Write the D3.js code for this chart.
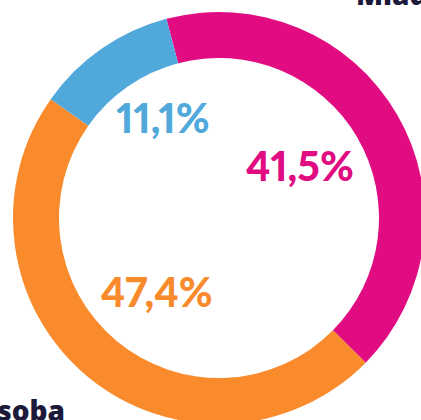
<!DOCTYPE html>
<html>
<head>
<meta charset="utf-8">
<script src="https://cdn.jsdelivr.net/npm/d3@7"></script>
<style>
	body { margin: 0; background: #fff; }
	#vizholder { width: 421px; height: 420px; overflow: hidden; }
	text { font-family: "Lato", "Noto Sans", sans-serif; font-weight: 900; }
	text.pct { font-variant-numeric: proportional-nums; font-feature-settings: "pnum" 1; }
	text.name { font-family: "Open Sans", "Noto Sans", sans-serif; font-weight: 800; }
</style>
</head>
<body>
<div id="vizholder"></div>
<script>

var gfxwidth = 421;
var gfxheight = 420;

// share of each group, in drawing order (clockwise)
var data = [
	{ "name": "pink",   "value": 41.5, "label": "41,5%", "color": "#e10c82", "lr": 97,  "dx": -3, "dy": -3 },
	{ "name": "orange", "value": 47.4, "label": "47,4%", "color": "#f98b2c", "lr": 97,  "dx": 0, "dy": 0 },
	{ "name": "blue",   "value": 11.1, "label": "11,1%", "color": "#50a8db", "lr": 114, "dx": 9, "dy": -6 }
];

var cx = 219, cy = 218;
var outerR = 206, innerR = 160;
var startAng = -14.8 * Math.PI / 180;

var svg = d3.select("#vizholder").append("svg")
	.attr("width", gfxwidth)
	.attr("height", gfxheight);

var vis = svg.append("g")
	.attr("transform", "translate(" + cx + "," + cy + ")");

var pie = d3.pie()
	.sort(null)
	.value(function(d) { return d.value; })
	.startAngle(startAng)
	.endAngle(startAng + 2 * Math.PI);

var arc = d3.arc()
	.innerRadius(innerR)
	.outerRadius(outerR);

var arcs = pie(data);

vis.selectAll("path")
	.data(arcs)
	.enter().append("path")
	.attr("d", arc)
	.style("fill", function(d) { return d.data.color; });

vis.selectAll("text.pct")
	.data(arcs)
	.enter().append("text")
	.attr("class", "pct")
	.attr("transform", function(d) {
		var la = d3.arc().innerRadius(d.data.lr).outerRadius(d.data.lr);
		var c = la.centroid(d);
		return "translate(" + (c[0] + d.data.dx) + "," + (c[1] + d.data.dy) + ")";
	})
	.attr("text-anchor", "middle")
	.attr("dy", ".35em")
	.style("font-size", "41px")
	.style("fill", function(d) { return d.data.color; })
	.text(function(d) { return d.data.label; });

// category names, cropped by the picture edge
svg.append("text")
	.attr("class", "name")
	.attr("x", 356)
	.attr("y", 5)
	.style("font-size", "28px")
	.style("fill", "#1c1a3a")
	.text("Mladí");

svg.append("text")
	.attr("class", "name")
	.attr("x", 65)
	.attr("y", 421)
	.attr("text-anchor", "end")
	.style("font-size", "28px")
	.style("fill", "#1c1a3a")
	.text("osoba");

</script>
</body>
</html>
